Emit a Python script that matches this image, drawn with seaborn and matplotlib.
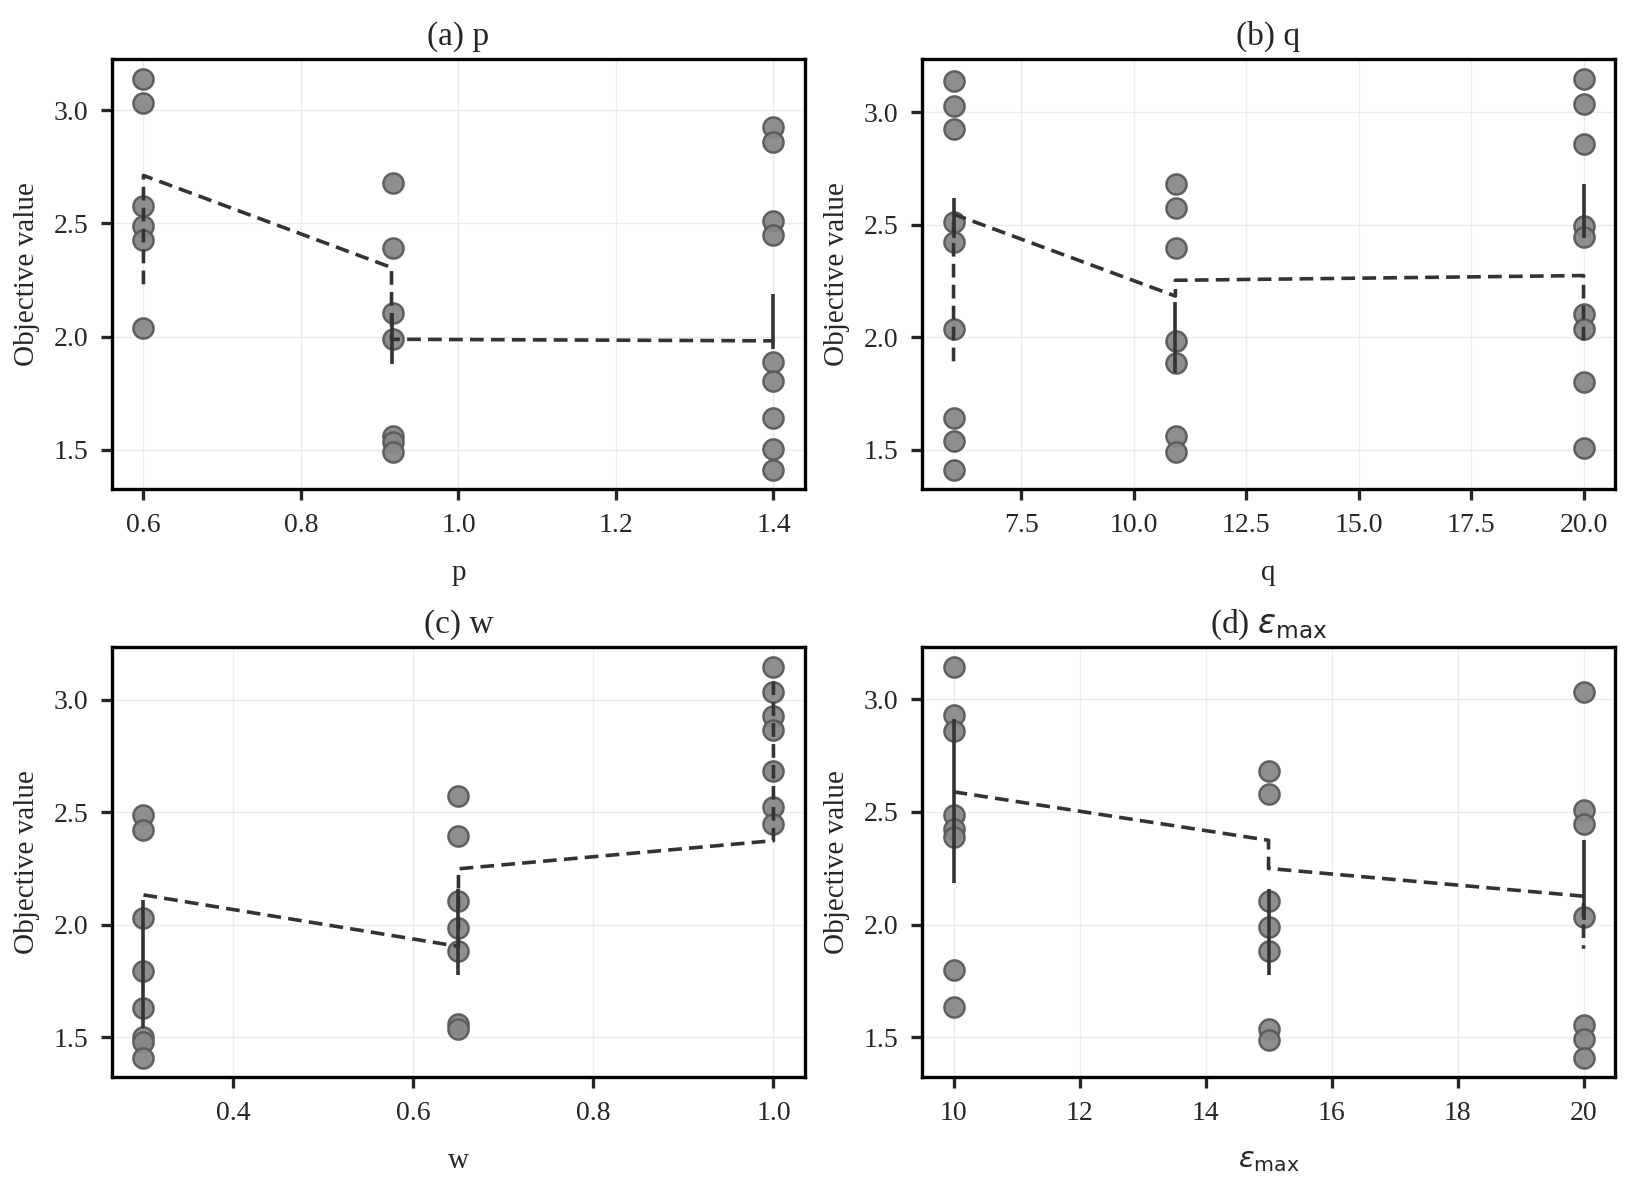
import numpy as np
import pandas as pd
import matplotlib
matplotlib.use("Agg")
import matplotlib.pyplot as plt
import seaborn as sns

# ---------------- data ----------------
# Panel (a): p
a_x = [0.6]*6 + [0.917]*7 + [1.4]*9
a_y = [3.14, 3.03, 2.576, 2.488, 2.427, 2.036,
       2.68, 2.393, 2.106, 1.988, 1.562, 1.536, 1.489,
       2.926, 2.859, 2.51, 2.447, 1.888, 1.804, 1.64, 1.503, 1.412]
a_line_x = [0.6, 0.6, 0.915, 0.915, 1.4]
a_line_y = [2.231, 2.712, 2.305, 1.988, 1.981]
a_err_x = [0.915, 1.4]
a_err_lo = [1.878, 1.944]
a_err_hi = [2.106, 2.187]
a_ticks = [0.6, 0.8, 1.0, 1.2, 1.4]

# Panel (b): q
b_x = [6]*9 + [10.95]*7 + [20]*9
b_y = [3.14, 3.028, 2.925, 2.51, 2.422, 2.036, 1.639, 1.54, 1.412,
       2.68, 2.576, 2.396, 1.985, 1.886, 1.562, 1.491,
       3.149, 3.037, 2.86, 2.496, 2.444, 2.104, 2.038, 1.799, 1.507]
b_line_x = [6, 6, 10.93, 10.93, 20, 20]
b_line_y = [1.893, 2.547, 2.183, 2.253, 2.274, 1.98]
b_err_x = [6, 10.93, 20]
b_err_lo = [2.44, 1.842, 2.44]
b_err_hi = [2.62, 2.158, 2.68]
b_ticks = [7.5, 10.0, 12.5, 15.0, 17.5, 20.0]

# Panel (c): w
c_x = [0.3]*8 + [0.65]*7 + [1.0]*7
c_y = [2.488, 2.422, 2.032, 1.794, 1.632, 1.50, 1.48, 1.41,
       2.574, 2.393, 2.104, 1.985, 1.882, 1.561, 1.535,
       3.148, 3.034, 2.93, 2.867, 2.685, 2.522, 2.45]
c_line_x = [0.3, 0.65, 0.65, 1.0, 1.0]
c_line_y = [2.133, 1.904, 2.249, 2.374, 3.093]
c_err_x = [0.3, 0.65]
c_err_lo = [1.54, 1.778]
c_err_hi = [2.108, 2.16]
c_ticks = [0.4, 0.6, 0.8, 1.0]

# Panel (d): eps_max
d_x = [10]*8 + [15]*7 + [20]*7
d_y = [3.145, 2.93, 2.861, 2.488, 2.426, 2.389, 1.798, 1.632,
       2.683, 2.579, 2.104, 1.987, 1.883, 1.538, 1.486,
       3.034, 2.51, 2.448, 2.034, 1.553, 1.494, 1.41]
d_line_x = [10, 15, 15, 20, 20]
d_line_y = [2.589, 2.374, 2.249, 2.126, 1.893]
d_err_x = [10, 15, 20]
d_err_lo = [2.186, 1.775, 2.02]
d_err_hi = [2.911, 2.16, 2.377]
d_ticks = [10, 12, 14, 16, 18, 20]

y_ticks = [1.5, 2.0, 2.5, 3.0]
titles = ["(a) p", "(b) q", "(c) w", r"(d) $\varepsilon_{\mathrm{max}}$"]
xlabels = ["p", "q", "w", r"$\varepsilon_{\mathrm{max}}$"]
ylabel = "Objective value"

# ---------------- style ----------------
sns.set_theme(style="ticks")
plt.rcParams["font.family"] = ["Liberation Serif", "DejaVu Serif"]
plt.rcParams["mathtext.fontset"] = "dejavusans"

fig, axes = plt.subplots(2, 2, figsize=(16.32, 11.81), dpi=100)
fig.subplots_adjust(left=0.0686, right=0.9896, top=0.950, bottom=0.088,
                    wspace=0.169, hspace=0.367)

panels = [
    (a_x, a_y, a_line_x, a_line_y, a_err_x, a_err_lo, a_err_hi, a_ticks),
    (b_x, b_y, b_line_x, b_line_y, b_err_x, b_err_lo, b_err_hi, b_ticks),
    (c_x, c_y, c_line_x, c_line_y, c_err_x, c_err_lo, c_err_hi, c_ticks),
    (d_x, d_y, d_line_x, d_line_y, d_err_x, d_err_lo, d_err_hi, d_ticks),
]

for ax, (px, py, lx, ly, ex, elo, ehi, xt), title, xl in zip(axes.flat, panels, titles, xlabels):
    ax.grid(True, color="#ececec", linewidth=1.0, zorder=0)
    ax.set_axisbelow(True)
    sns.scatterplot(x=px, y=py, ax=ax, s=210, color="#888888",
                    edgecolor="#5a5a5a", linewidth=1.8, alpha=0.95, zorder=3)
    sns.lineplot(x=lx, y=ly, ax=ax, estimator=None, sort=False,
                 color="#333333", linewidth=2.6, dashes=False, zorder=4)
    ax.lines[-1].set_dashes((3.8, 2.0))
    ax.vlines(ex, elo, ehi, color="#333333", linewidth=2.6, zorder=4)
    ax.set_title(title, fontsize=24, pad=10)
    ax.set_xlabel(xl, fontsize=21, labelpad=16)
    ax.set_ylabel(ylabel, fontsize=21, labelpad=10)
    ax.set_xticks(xt)
    ax.set_yticks(y_ticks)
    ax.tick_params(axis="both", labelsize=20, length=8, width=2.4,
                   direction="out", pad=9)
    for sp in ax.spines.values():
        sp.set_linewidth(2.4)
        sp.set_color("black")

fig.savefig("out.png", dpi=100)
